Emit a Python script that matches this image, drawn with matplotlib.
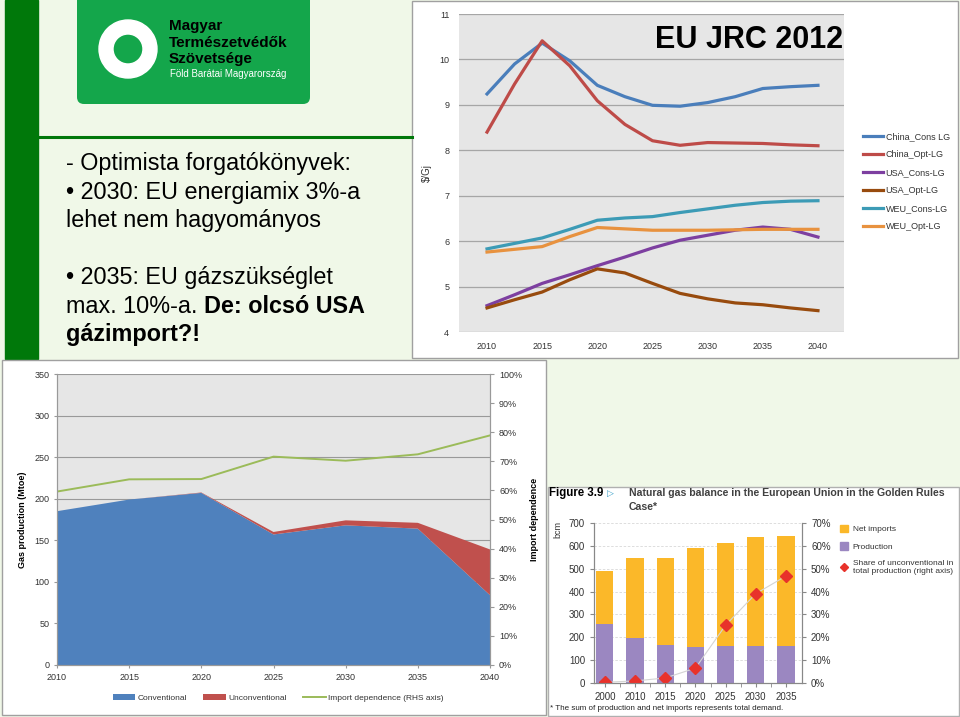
import matplotlib
matplotlib.use('Agg')
import matplotlib.pyplot as plt
from matplotlib.patches import Rectangle, FancyBboxPatch, Annulus, Patch
from matplotlib.lines import Line2D
from matplotlib.ticker import PercentFormatter
import numpy as np

plt.rcParams['font.family'] = ['Liberation Sans', 'DejaVu Sans']

W, H = 960, 717

# top right: EU JRC 2012 gas price scenarios ($/GJ)
price_years = [2010, 2012.5, 2015, 2017.5, 2020, 2022.5, 2025, 2027.5, 2030, 2032.5, 2035, 2037.5, 2040]
china_cons = [9.24, 9.90, 10.36, 9.97, 9.43, 9.18, 8.99, 8.97, 9.05, 9.18, 9.36, 9.40, 9.43]
china_opt = [8.40, 9.46, 10.41, 9.86, 9.09, 8.57, 8.21, 8.11, 8.17, 8.16, 8.15, 8.12, 8.10]
usa_cons = [4.58, 4.82, 5.07, 5.26, 5.46, 5.65, 5.85, 6.02, 6.13, 6.24, 6.31, 6.26, 6.09]
usa_opt = [4.53, 4.71, 4.88, 5.15, 5.39, 5.30, 5.07, 4.85, 4.73, 4.64, 4.60, 4.53, 4.47]
weu_cons = [5.83, 5.95, 6.07, 6.26, 6.46, 6.51, 6.54, 6.63, 6.71, 6.79, 6.85, 6.88, 6.89]
weu_opt = [5.76, 5.82, 5.88, 6.10, 6.30, 6.27, 6.24, 6.24, 6.24, 6.25, 6.26, 6.26, 6.26]
price_names = ['China_Cons LG', 'China_Opt-LG', 'USA_Cons-LG', 'USA_Opt-LG', 'WEU_Cons-LG', 'WEU_Opt-LG']

# bottom left: EU gas production (Mtoe) and import dependence
prod_years = [2010, 2015, 2020, 2025, 2030, 2035, 2040]
conventional = [185, 199, 207, 157, 168, 164, 84]
unconventional = [0, 0, 0.5, 3, 6, 7, 55]
import_dep = [0.596, 0.638, 0.639, 0.716, 0.702, 0.724, 0.789]

# bottom right: natural gas balance, Golden Rules case (bcm)
bal_years = ['2000', '2010', '2015', '2020', '2025', '2030', '2035']
production = [258, 197, 167, 157, 160, 160, 160]
net_imports = [230, 352, 382, 435, 454, 479, 483]
unconv_share = [0.3, 0.9, 2.2, 6.5, 25.3, 39.1, 46.8]


def rect(x0, y0, x1, y1):
    # pixel box -> figure fraction
    return [x0 / W, 1 - y1 / H, (x1 - x0) / W, (y1 - y0) / H]


fig = plt.figure(figsize=(9.6, 7.17), dpi=100)
fig.patch.set_facecolor('#f0f8e8')

bg = fig.add_axes([0, 0, 1, 1])
bg.set_xlim(0, W)
bg.set_ylim(H, 0)
bg.axis('off')

# slide decoration
bg.add_patch(Rectangle((5, 0), 33, 359, color='#00780a'))
bg.plot([38, 412], [137, 137], color='#00780a', lw=2.2)
bg.add_patch(FancyBboxPatch((77, -12), 233, 116, boxstyle='round,pad=0,rounding_size=7',
                            fc='#14a64b', ec='none'))
bg.add_patch(Annulus((128, 49), 29, 14, color='white'))
bg.text(169, 26, 'Magyar', fontsize=11, fontweight='bold', va='center')
bg.text(169, 43, 'Természetvédők', fontsize=11, fontweight='bold', va='center')
bg.text(169, 59, 'Szövetsége', fontsize=11, fontweight='bold', va='center')
bg.text(170, 74, 'Föld Barátai Magyarország', fontsize=7, color='white', va='center')

# panels
bg.add_patch(Rectangle((412, 1), 546, 357, fc='white', ec='#a0a0a0', lw=1))
bg.add_patch(Rectangle((2, 360), 544, 355, fc='white', ec='#a0a0a0', lw=1))
bg.add_patch(Rectangle((548, 487), 411, 229, fc='white', ec='#b0b0b0', lw=1))

# slide text
fs = 16.8
bg.text(66, 170, '- Optimista forgatókönyvek:', fontsize=fs, va='baseline')
bg.text(66, 199, '• 2030: EU energiamix 3%-a', fontsize=fs, va='baseline')
bg.text(66, 227, 'lehet nem hagyományos', fontsize=fs, va='baseline')
bg.text(66, 284, '• 2035: EU gázszükséglet', fontsize=fs, va='baseline')
t5 = bg.text(66, 313, 'max. 10%-a. ', fontsize=fs, va='baseline')
bg.text(66, 341, 'gázimport?!', fontsize=fs, va='baseline', fontweight='bold')
fig.canvas.draw()
ext = t5.get_window_extent()
x_bold = bg.transData.inverted().transform((ext.x1, ext.y0))[0]
bg.text(x_bold, 313, 'De: olcsó USA', fontsize=fs, va='baseline', fontweight='bold')

# ---- top right chart
ax1 = fig.add_axes(rect(459, 14, 844, 332))
colors1 = ['#4a7ebb', '#be4b48', '#7d3fa0', '#984b0e', '#3c9bb6', '#e8923f']
for vals, name, c in zip([china_cons, china_opt, usa_cons, usa_opt, weu_cons, weu_opt], price_names, colors1):
    ax1.plot(price_years, vals, color=c, lw=2.3, label=name, solid_joinstyle='round')
ax1.set_facecolor('#e6e6e6')
ax1.set_xlim(2007.46, 2042.36)
ax1.set_ylim(4, 11)
ax1.set_xticks(range(2010, 2041, 5))
ax1.set_yticks(range(4, 12))
ax1.grid(axis='y', color='#a6a6a6', lw=0.9)
ax1.set_axisbelow(True)
for s in ax1.spines.values():
    s.set_visible(False)
ax1.tick_params(length=0, labelsize=6.5, colors='#333333', pad=7)
ax1.set_ylabel('$/Gj', fontsize=7, color='#333333')
ax1.yaxis.set_label_coords(-0.07, 0.5)
fig.text(843 / W, 1 - 40 / H, 'EU JRC 2012', fontsize=22, fontweight='bold', ha='right', va='center')
fig.legend(handles=ax1.get_lines(), loc='upper left', bbox_to_anchor=(855 / W, 1 - 124 / H),
           frameon=False, fontsize=6.5, handlelength=2.2, handletextpad=0.3, labelspacing=1.0,
           labelcolor='#333333')

# ---- bottom left chart
ax2 = fig.add_axes(rect(57, 374, 490, 665))
polys = ax2.stackplot(prod_years, conventional, unconventional, colors=['#4f81bd', '#c0504d'],
                      labels=['Conventional', 'Unconventional'])
ax2.set_facecolor('#e6e6e6')
ax2.set_xlim(2010, 2040)
ax2.set_ylim(0, 350)
ax2.set_xticks(prod_years)
ax2.set_yticks(range(0, 351, 50))
ax2.grid(axis='y', color='#999999', lw=0.8)
ax2.set_axisbelow(True)
ax2.tick_params(labelsize=6.5, colors='#333333', length=2, color='#999999')
ax2.set_ylabel('Gas production (Mtoe)', fontsize=6.5, fontweight='bold')
ax2.yaxis.set_label_coords(-0.069, 0.5)
ax2r = ax2.twinx()
dep_line, = ax2r.plot(prod_years, import_dep, color='#9bbb59', lw=1.4, label='Import dependence (RHS axis)')
ax2r.set_ylim(0, 1)
ax2r.set_yticks(np.arange(0, 1.01, 0.1))
ax2r.yaxis.set_major_formatter(PercentFormatter(1, decimals=0))
ax2r.tick_params(labelsize=6.5, colors='#333333', length=3, color='#999999')
ax2r.set_ylabel('Import dependence', fontsize=6.5, fontweight='bold')
ax2r.yaxis.set_label_coords(1.092, 0.5)
for a in (ax2, ax2r):
    a.spines['top'].set_visible(False)
    for s in ('left', 'right', 'bottom'):
        a.spines[s].set_color('#999999')
fig.legend(handles=list(polys) + [dep_line], loc='center', bbox_to_anchor=(278 / W, 1 - 698 / H),
           ncol=3, frameon=False, fontsize=6.0, columnspacing=2.0, handlelength=2.7, handleheight=0.6,
           handletextpad=0.25, labelcolor='#333333')

# ---- bottom right chart
bg.text(549, 493, 'Figure 3.9', fontsize=8.3, fontweight='bold', va='center')
bg.text(607, 493, '▷', fontsize=6.5, color='#3a9fc8', va='center', family='DejaVu Sans')
bg.text(629, 493, 'Natural gas balance in the European Union in the Golden Rules',
        fontsize=7.6, fontweight='bold', color='#404040', va='center')
bg.text(629, 507, 'Case*', fontsize=7.6, fontweight='bold', color='#404040', va='center')
bg.text(550, 708, '* The sum of production and net imports represents total demand.',
        fontsize=5.8, color='#222222', va='center')

ax3 = fig.add_axes(rect(594, 523, 802, 683))
x = np.arange(len(bal_years))
ax3.bar(x, production, width=0.57, color='#9b87c1')
ax3.bar(x, net_imports, width=0.57, bottom=production, color='#fbb829')
ax3.set_xlim(-0.36, 6.53)
ax3.set_ylim(0, 700)
ax3.set_yticks(range(0, 701, 100))
ax3.set_xticks(x)
ax3.set_xticklabels(bal_years)
ax3.set_xticks(x[:-1] + 0.5, minor=True)
ax3.grid(axis='y', color='#d8d8d8', lw=0.6, ls=(0, (3, 2)))
ax3.set_axisbelow(True)
ax3.tick_params(axis='x', which='major', length=0)
ax3.tick_params(axis='x', which='minor', length=3, color='#888888')
ax3.tick_params(labelsize=7, colors='#333333', color='#888888', length=3)
ax3.set_ylabel('bcm', fontsize=6.5, color='#333333')
ax3.yaxis.set_label_coords(-0.15, 0.96)
ax3r = ax3.twinx()
ax3r.plot(x, unconv_share, color='#d4d4d4', lw=0.8)
ax3r.plot(x, unconv_share, ls='none', marker='D', ms=6, color='#e8322b')
ax3r.set_ylim(0, 70)
ax3r.set_yticks(range(0, 71, 10))
ax3r.yaxis.set_major_formatter(PercentFormatter(100, decimals=0))
ax3r.tick_params(labelsize=7, colors='#333333', color='#888888', length=3)
for a in (ax3, ax3r):
    a.spines['top'].set_visible(False)
    for s in ('left', 'right', 'bottom'):
        a.spines[s].set_color('#888888')
h3 = [Patch(color='#fbb829'), Patch(color='#9b87c1'),
      Line2D([], [], color='#d4d4d4', lw=0.8, marker='D', ms=4, mfc='#e8322b', mec='#e8322b')]
fig.legend(handles=h3, labels=['Net imports', 'Production',
                               'Share of unconventional in\ntotal production (right axis)'],
           loc='upper left', bbox_to_anchor=(832 / W, 1 - 517 / H), frameon=False, fontsize=6.0,
           handlelength=1.0, handleheight=1.0, labelspacing=1.1, handletextpad=0.6, labelcolor='#333333')

fig.savefig('out.png', dpi=100)
